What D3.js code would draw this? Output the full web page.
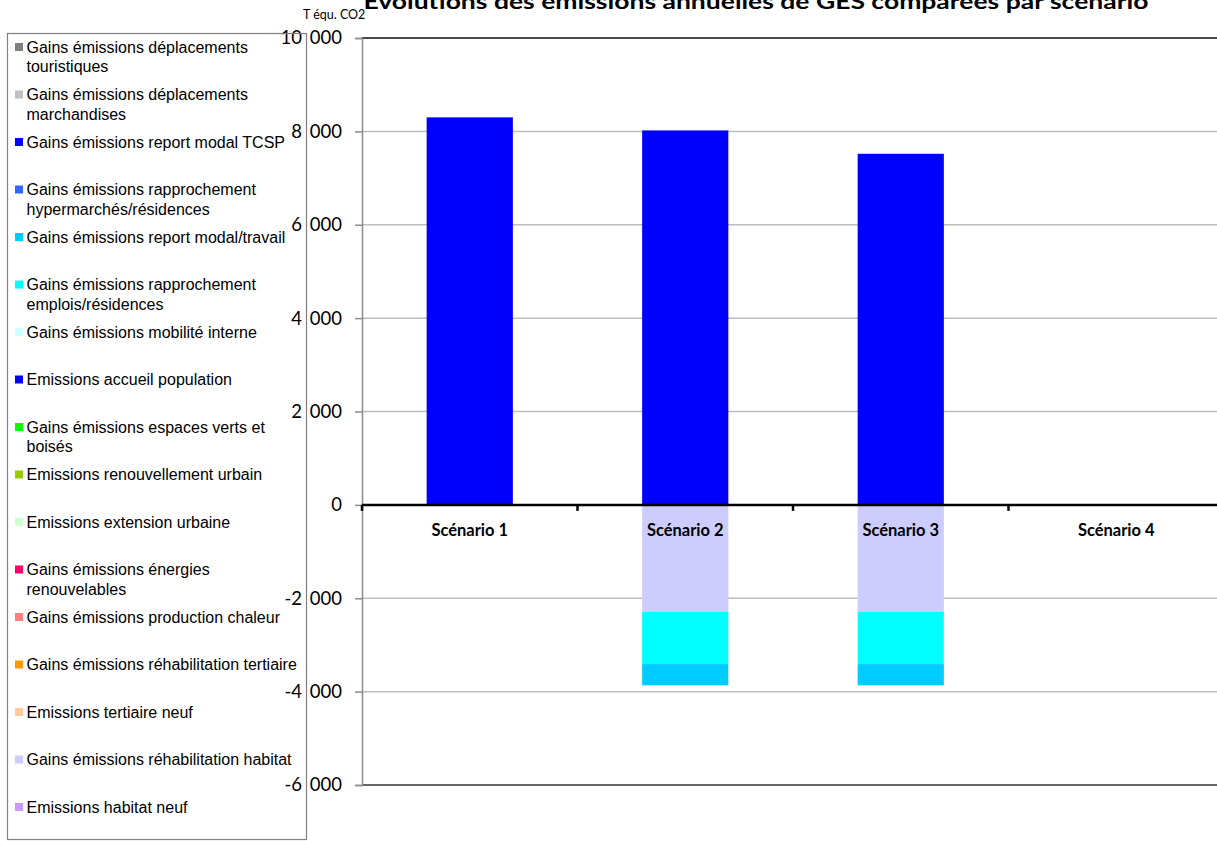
<!DOCTYPE html>
<html>
<head>
<meta charset="utf-8">
<script src="https://cdn.jsdelivr.net/npm/d3@7"></script>
<style>
  html, body { margin: 0; padding: 0; background: #fff; }
  svg { display: block; }
</style>
</head>
<body>
<svg id="chart" width="1217" height="841"></svg>
<script>
// Scenarios along the x axis
const categories = ["Scénario 1", "Scénario 2", "Scénario 3", "Scénario 4"];

// Series in stacking order (first series sits next to the zero line)
const seriesNames = [
  "Emissions habitat neuf",
  "Gains émissions réhabilitation habitat",
  "Emissions tertiaire neuf",
  "Gains émissions réhabilitation tertiaire",
  "Gains émissions production chaleur",
  "Gains émissions énergies renouvelables",
  "Emissions extension urbaine",
  "Emissions renouvellement urbain",
  "Gains émissions espaces verts et boisés",
  "Emissions accueil population",
  "Gains émissions mobilité interne",
  "Gains émissions rapprochement emplois/résidences",
  "Gains émissions report modal/travail",
  "Gains émissions rapprochement hypermarchés/résidences",
  "Gains émissions report modal TCSP",
  "Gains émissions déplacements marchandises",
  "Gains émissions déplacements touristiques"
];

const seriesColors = [
  "#CC99FF", "#CCCCFF", "#FFCC99", "#FF9900", "#FF8080", "#FF0066",
  "#CCFFCC", "#99CC00", "#00FF00", "#0000FF", "#CCFFFF", "#00FFFF",
  "#00CCFF", "#3366FF", "#0000FF", "#C0C0C0", "#808080"
];

// Values in T équ. CO2, one per scenario
const habitatNeuf          = [0, 0, 0, 0];
const rehabHabitat         = [0, -2290, -2290, 0];
const tertiaireNeuf        = [0, 0, 0, 0];
const rehabTertiaire       = [0, 0, 0, 0];
const productionChaleur    = [0, 0, 0, 0];
const energiesRenouv       = [0, 0, 0, 0];
const extensionUrbaine     = [0, 0, 0, 0];
const renouvellementUrbain = [0, 0, 0, 0];
const espacesVerts         = [0, 0, 0, 0];
const accueilPopulation    = [8300, 8020, 7520, 0];
const mobiliteInterne      = [0, 0, 0, 0];
const emploisResidences    = [0, -1120, -1120, 0];
const reportModalTravail   = [0, -455, -455, 0];
const hypermarchesRes      = [0, 0, 0, 0];
const reportModalTCSP      = [0, 0, 0, 0];
const deplMarchandises     = [0, 0, 0, 0];
const deplTouristiques     = [0, 0, 0, 0];

const seriesValues = [
  habitatNeuf, rehabHabitat, tertiaireNeuf, rehabTertiaire, productionChaleur,
  energiesRenouv, extensionUrbaine, renouvellementUrbain, espacesVerts,
  accueilPopulation, mobiliteInterne, emploisResidences, reportModalTravail,
  hypermarchesRes, reportModalTCSP, deplMarchandises, deplTouristiques
];

const yTicks = [10000, 8000, 6000, 4000, 2000, 0, -2000, -4000, -6000];
const titleText = "Evolutions des émissions annuelles de GES comparées par scénario";
const unitText = "T équ. CO2";

const svg = d3.select("#chart");

const plot = { left: 362, right: 1224, top: 38, bottom: 785 };

const x = d3.scaleBand()
  .domain(categories)
  .range([plot.left, plot.right])
  .paddingInner(0.6)
  .paddingOuter(0.3);

const y = d3.scaleLinear()
  .domain([-6000, 10000])
  .range([plot.bottom, plot.top]);

// Gridlines
svg.append("g")
  .selectAll("line")
  .data(yTicks.filter(t => t !== 0 && t !== 10000 && t !== -6000))
  .join("line")
  .attr("x1", plot.left).attr("x2", plot.right)
  .attr("y1", d => y(d)).attr("y2", d => y(d))
  .attr("stroke", "#BEBEBE").attr("stroke-width", 1.5);

// Plot frame: top and bottom edges
svg.append("line")
  .attr("x1", plot.left).attr("x2", plot.right)
  .attr("y1", y(10000)).attr("y2", y(10000))
  .attr("stroke", "#4A4A4A").attr("stroke-width", 2);
svg.append("line")
  .attr("x1", plot.left).attr("x2", plot.right)
  .attr("y1", y(-6000)).attr("y2", y(-6000))
  .attr("stroke", "#666").attr("stroke-width", 2);

// Stacked bars, positives upward and negatives downward
const rows = categories.map((c, i) => {
  const r = { cat: c };
  seriesNames.forEach((s, k) => { r[s] = seriesValues[k][i]; });
  return r;
});
const stack = d3.stack()
  .keys(seriesNames)
  .offset(d3.stackOffsetDiverging);
const stacked = stack(rows);

svg.append("g")
  .selectAll("g")
  .data(stacked)
  .join("g")
  .attr("fill", (d, k) => seriesColors[k])
  .selectAll("rect")
  .data(d => d.filter(p => p[1] !== p[0]))
  .join("rect")
  .attr("x", p => x(p.data.cat))
  .attr("width", x.bandwidth())
  .attr("y", p => y(Math.max(p[0], p[1])))
  .attr("height", p => Math.abs(y(p[0]) - y(p[1])));

// Y axis
const yAxis = d3.axisLeft(y)
  .tickValues(yTicks)
  .tickSize(7)
  .tickPadding(13)
  .tickFormat(d => d3.format(",")(d).replace(/,/g, " ").replace("\u2212", "-"));
const gy = svg.append("g")
  .attr("transform", `translate(${plot.left},0)`)
  .call(yAxis);
gy.select(".domain").attr("stroke", "#8C8C8C").attr("stroke-width", 1.5);
gy.selectAll(".tick line").attr("stroke", "#8C8C8C").attr("stroke-width", 1.5);
gy.selectAll(".tick text")
  .attr("font-family", "Lato, 'Open Sans', sans-serif")
  .attr("font-size", 18.5)
  .attr("word-spacing", 3)
  .attr("fill", "#000");

// Zero baseline with category separators
svg.append("line")
  .attr("x1", plot.left).attr("x2", plot.right)
  .attr("y1", y(0)).attr("y2", y(0))
  .attr("stroke", "#000").attr("stroke-width", 2.5);
const bounds = categories.map((c, i) => plot.left + i * x.step());
svg.append("g")
  .selectAll("line")
  .data(bounds)
  .join("line")
  .attr("x1", d => d).attr("x2", d => d)
  .attr("y1", y(0)).attr("y2", y(0) + 6)
  .attr("stroke", "#000").attr("stroke-width", 2.5);

// Category labels
svg.append("g")
  .selectAll("text")
  .data(categories)
  .join("text")
  .attr("x", c => x(c) + x.bandwidth() / 2)
  .attr("y", y(0) + 31)
  .attr("text-anchor", "middle")
  .attr("font-family", "Lato, 'Open Sans', sans-serif")
  .attr("font-weight", "bold")
  .attr("font-size", 16.5)
  .attr("fill", "#000")
  .text(c => c);

// Title and unit
svg.append("text")
  .attr("x", 756).attr("y", 9)
  .attr("text-anchor", "middle")
  .attr("font-family", "Lato, 'Open Sans', sans-serif")
  .attr("font-weight", "bold")
  .attr("font-size", 21)
  .attr("textLength", 785)
  .attr("lengthAdjust", "spacingAndGlyphs")
  .text(titleText);

svg.append("text")
  .attr("x", 303).attr("y", 19)
  .attr("font-family", "Lato, 'Open Sans', sans-serif")
  .attr("font-size", 12.5)
  .attr("fill", "#000")
  .text(unitText);

// Legend, last series on top
const legend = svg.append("g");
legend.append("rect")
  .attr("x", 7.5).attr("y", 33.5)
  .attr("width", 299).attr("height", 806)
  .attr("fill", "none")
  .attr("stroke", "#7F7F7F").attr("stroke-width", 1.2);

const legendOrder = d3.range(seriesNames.length).reverse();
const maxTextWidth = 280;
const lineGap = 19.5;
const entryGap = 47.5;

legendOrder.forEach((k, i) => {
  const top = 47 + i * entryGap;
  legend.append("rect")
    .attr("x", 15).attr("y", top - 4)
    .attr("width", 8).attr("height", 8)
    .attr("fill", seriesColors[k]);
  const t = legend.append("text")
    .attr("font-family", "'Liberation Sans', Arial, sans-serif")
    .attr("font-size", 16)
    .attr("fill", "#000");
  // wrap words to the legend width
  const words = seriesNames[k].split(" ");
  let line = [];
  let lineNo = 0;
  let tspan = t.append("tspan").attr("x", 26.5).attr("y", top + 5.5);
  words.forEach(w => {
    line.push(w);
    tspan.text(line.join(" "));
    if (tspan.node().getComputedTextLength() > maxTextWidth && line.length > 1) {
      line.pop();
      tspan.text(line.join(" "));
      line = [w];
      lineNo++;
      tspan = t.append("tspan").attr("x", 26.5).attr("y", top + 5.5 + lineNo * lineGap).text(w);
    }
  });
});
</script>
</body>
</html>
